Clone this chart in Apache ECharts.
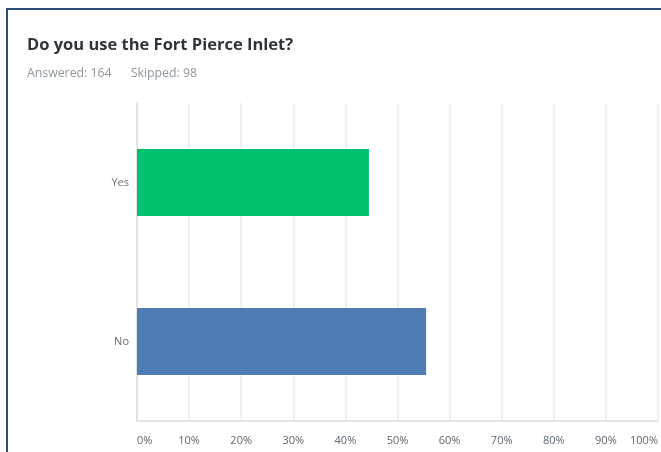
<!DOCTYPE html>
<html>
<head>
<meta charset="utf-8">
<script src="https://cdn.jsdelivr.net/npm/echarts@6/dist/echarts.min.js"></script>
<style>
  html, body { margin: 0; padding: 0; background: #fff; }
  #chart { width: 661px; height: 452px; }
</style>
</head>
<body>
<div id="chart"></div>
<script>
var questionText = 'Do you use the Fort Pierce Inlet?';
var answered = 164;
var skipped = 98;
var categories = ['Yes', 'No'];
var percents = [44.51, 55.49];
var barColors = ['#00bf6f', '#507cb6'];
var tickLabels = ['0%', '10%', '20%', '30%', '40%', '50%', '60%', '70%', '80%', '90%', '100%'];

var myChart = echarts.init(document.getElementById('chart'));

var option = {
    backgroundColor: '#ffffff',
    animation: false,
    title: {
        text: questionText,
        subtext: 'Answered: ' + answered + '      Skipped: ' + skipped,
        left: 22,
        top: 32,
        itemGap: 13,
        textStyle: {
            fontFamily: 'Open Sans',
            fontSize: 16.5,
            fontWeight: 'bold',
            color: '#2e363d'
        },
        subtextStyle: {
            fontFamily: 'Open Sans',
            fontSize: 12.3,
            color: '#8d969c'
        }
    },
    graphic: [{
        type: 'rect',
        shape: { x: 7, y: 9, width: 720, height: 520 },
        style: { fill: 'none', stroke: '#2e4d7b', lineWidth: 2 },
        silent: true
    }],
    grid: {
        left: 137,
        top: 103,
        width: 529,
        height: 318
    },
    xAxis: {
        type: 'value',
        min: 0,
        max: 100,
        interval: 10,
        axisLine: { show: true, lineStyle: { color: '#e3e3e3', width: 2 } },
        axisTick: { show: false },
        splitLine: { show: true, lineStyle: { color: '#f0f0f0', width: 2 } },
        axisLabel: {
            margin: 14,
            fontFamily: 'Open Sans',
            fontSize: 11,
            color: '#5c6670',
            alignMinLabel: 'left',
            alignMaxLabel: 'right',
            formatter: function (v) { return tickLabels[Math.round(v / 10)]; }
        }
    },
    yAxis: {
        type: 'category',
        data: categories,
        inverse: true,
        axisLine: { show: true, lineStyle: { color: '#e3e3e3', width: 2 } },
        axisTick: { show: false },
        axisLabel: {
            margin: 8,
            fontFamily: 'Open Sans',
            fontSize: 11,
            color: '#666e75'
        }
    },
    series: [{
        type: 'bar',
        barWidth: 67,
        data: percents.map(function (v, i) {
            return { value: v, itemStyle: { color: barColors[i] } };
        })
    }]
};

myChart.setOption(option);
</script>
</body>
</html>
